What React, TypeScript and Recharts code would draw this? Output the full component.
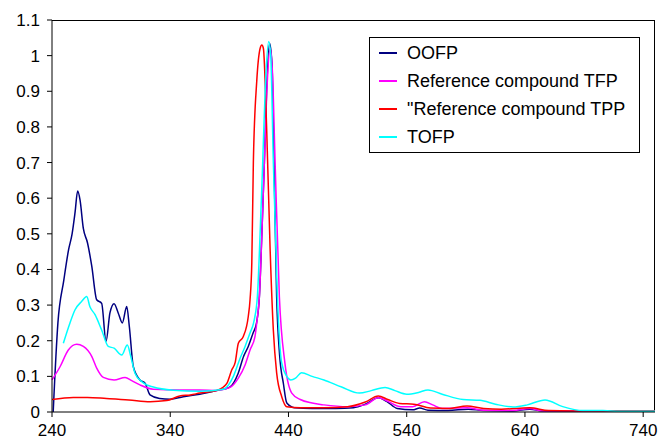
import React from "react"
import { CartesianGrid, Legend, Line, LineChart, XAxis, YAxis } from "recharts"

// absorbance spectra, [wavelength nm, absorbance]
const oofp = [
  [241, 0], [245, 0.25], [250, 0.37], [254, 0.455], [257, 0.5], [259.5, 0.56], [261.7, 0.62],
  [263.7, 0.595], [266.5, 0.515], [270, 0.475], [273.6, 0.41], [277.8, 0.315], [282, 0.305],
  [285.7, 0.198], [289, 0.278], [292.5, 0.304], [296, 0.278], [299.5, 0.25], [303.2, 0.296],
  [305.4, 0.24], [308.8, 0.127], [314.4, 0.09], [318.7, 0.081], [322.9, 0.048], [331, 0.038],
  [340, 0.036], [351, 0.043], [365, 0.05], [379, 0.06], [390, 0.069], [397.5, 0.109],
  [402, 0.156], [406, 0.184], [410, 0.221], [413, 0.25], [415.4, 0.324], [417.5, 0.5],
  [419.6, 0.7], [421.5, 0.9], [424, 1.035], [426, 0.98], [427.8, 0.7], [430, 0.324],
  [432.5, 0.16], [435.7, 0.08], [438.6, 0.025], [445, 0.012], [460, 0.01], [480, 0.01],
  [495, 0.012], [505, 0.022], [516, 0.04], [523, 0.03], [532, 0.01], [545, 0.006], [551, 0.011],
  [558, 0.005], [575, 0.004], [592, 0.008], [605, 0.004], [630, 0.003], [644, 0.008],
  [655, 0.003], [680, 0.002], [750, 0.002],
]

const tfp = [
  [240, 0.09], [246.8, 0.127], [253.8, 0.174], [260.9, 0.19], [266.5, 0.184], [273.6, 0.156],
  [277.8, 0.123], [283.4, 0.097], [292.5, 0.09], [301.8, 0.097], [307.4, 0.088], [314.4, 0.076],
  [325.7, 0.064], [348, 0.062], [365, 0.062], [379, 0.06], [390.6, 0.069], [397.6, 0.095],
  [403.3, 0.132], [407.5, 0.174], [411.7, 0.212], [413.5, 0.26], [415.4, 0.324], [417.5, 0.5],
  [419.6, 0.7], [422, 0.92], [424.5, 1.02], [426.5, 0.95], [428.7, 0.7], [432.3, 0.324],
  [437, 0.137], [442.8, 0.053], [450, 0.035], [460, 0.025], [470, 0.02], [490, 0.015],
  [505, 0.02], [516, 0.04], [524, 0.03], [535, 0.015], [545, 0.015], [555, 0.029], [562, 0.02],
  [570, 0.01], [591, 0.012], [605, 0.005], [630, 0.004], [644, 0.01], [655, 0.003],
  [700, 0.002], [750, 0.002],
]

const tpp = [
  [240, 0.035], [258, 0.041], [270, 0.041], [286, 0.038], [305, 0.034], [323, 0.029],
  [337, 0.032], [348, 0.045], [357, 0.048], [365, 0.053], [379, 0.06], [385, 0.07],
  [388, 0.081], [392, 0.118], [395, 0.14], [397.6, 0.193], [401.8, 0.212], [406, 0.268],
  [407.5, 0.315], [409, 0.42], [410.3, 0.7], [413.2, 0.93], [416, 1.02], [417.5, 1.03],
  [418.8, 1.02], [421.6, 0.79], [424.4, 0.465], [427.2, 0.23], [430, 0.11], [434.3, 0.043],
  [438.6, 0.015], [450, 0.012], [470, 0.012], [490, 0.015], [505, 0.028], [516, 0.045],
  [524, 0.035], [534, 0.024], [546, 0.022], [560, 0.011], [575, 0.01], [591, 0.017],
  [605, 0.01], [620, 0.008], [644, 0.012], [660, 0.004], [680, 0.003], [750, 0.003],
]

const tofp = [
  [249.6, 0.193], [255.2, 0.25], [259.5, 0.287], [265, 0.31], [269.4, 0.324], [272, 0.296],
  [276.4, 0.273], [282, 0.23], [287.6, 0.184], [292.5, 0.179], [299, 0.16], [303.7, 0.188],
  [306.6, 0.156], [310.2, 0.109], [316, 0.085], [325.7, 0.07], [342.6, 0.061], [365, 0.058],
  [385, 0.064], [393.4, 0.1], [399, 0.15], [403.3, 0.184], [407.5, 0.222], [410.5, 0.25],
  [413.7, 0.324], [416, 0.5], [418.2, 0.7], [420.5, 0.92], [423.3, 1.04], [425, 1.0],
  [427.2, 0.7], [430.6, 0.324], [434.3, 0.137], [438.6, 0.1], [442, 0.09], [446, 0.095],
  [451, 0.11], [460, 0.1], [470, 0.09], [485, 0.07], [500, 0.053], [510, 0.06], [521.7, 0.069],
  [530, 0.06], [540, 0.05], [550, 0.055], [558, 0.062], [570, 0.05], [587.7, 0.035],
  [602, 0.033], [615, 0.022], [630, 0.014], [642, 0.02], [657, 0.034], [672, 0.015],
  [689, 0.004], [706, 0.004], [720, 0.002], [750, 0.002],
]

const seriesNames = ["OOFP", "Reference compound TFP", "\"Reference compound TPP", "TOFP"]
const seriesColors = ["#000080", "#ff00ff", "#ff0000", "#00ffff"]
const xTicks = [240, 340, 440, 540, 640, 740]
const yTicks = [0, 0.1, 0.2, 0.3, 0.4, 0.5, 0.6, 0.7, 0.8, 0.9, 1, 1.1]

const toPoints = (arr: number[][]) => arr.map(([x, y]) => ({ x, y }))
const series = [oofp, tfp, tpp, tofp].map(toPoints)

const font = "'Liberation Sans', Arial, sans-serif"

function LegendBox(props: any) {
  const items = [...(props.payload || [])].sort(
    (a: any, b: any) => seriesNames.indexOf(a.value) - seriesNames.indexOf(b.value)
  )
  return (
    <div
      style={{
        border: "1px solid #000",
        background: "#fff",
        width: 269,
        padding: "1px 0 1px 0",
        fontFamily: font,
        fontSize: 18,
        color: "#000",
      }}
    >
      {items.map((p: any) => (
        <div key={p.value} style={{ display: "flex", alignItems: "center", height: 28 }}>
          <span style={{ display: "inline-block", width: 18, height: 2, background: p.color, marginLeft: 9, marginRight: 10 }} />
          <span>{p.value}</span>
        </div>
      ))}
    </div>
  )
}

export default function App() {
  return (
    <div style={{ position: "fixed", left: 0, top: 0, width: 662, height: 441, background: "#fff" }}>
      <LineChart width={662} height={441} margin={{ top: 20, right: 7, left: 8, bottom: 0 }} style={{ fontFamily: font }}>
        {/* only the top and right edges of the plot frame */}
        <CartesianGrid
          stroke="#000"
          strokeOpacity={1}
          horizontalCoordinatesGenerator={(p: any) => [p.offset.top + 0.5]}
          verticalCoordinatesGenerator={(p: any) => [p.offset.left + p.offset.width - 0.5]}
        />
        <XAxis
          dataKey="x"
          type="number"
          domain={[240, 750]}
          ticks={xTicks}
          allowDuplicatedCategory={false}
          height={29}
          tickSize={5}
          tickMargin={7}
          tick={{ fill: "#000", fontSize: 17 }}
          stroke="#000"
        />
        <YAxis
          type="number"
          domain={[0, 1.1]}
          ticks={yTicks}
          width={44}
          tickSize={5}
          tickMargin={7}
          tick={{ fill: "#000", fontSize: 17 }}
          stroke="#000"
          allowDataOverflow
        />
        {series.map((d, i) => (
          <Line
            key={seriesNames[i]}
            data={d}
            dataKey="y"
            name={seriesNames[i]}
            type="monotone"
            stroke={seriesColors[i]}
            strokeWidth={1.5}
            dot={false}
            activeDot={false}
            isAnimationActive={false}
          />
        ))}
        <Legend
          layout="horizontal"
          align="center"
          verticalAlign="middle"
          wrapperStyle={{ left: 369, top: 37, width: 271 }}
          content={<LegendBox />}
        />
      </LineChart>
    </div>
  )
}
